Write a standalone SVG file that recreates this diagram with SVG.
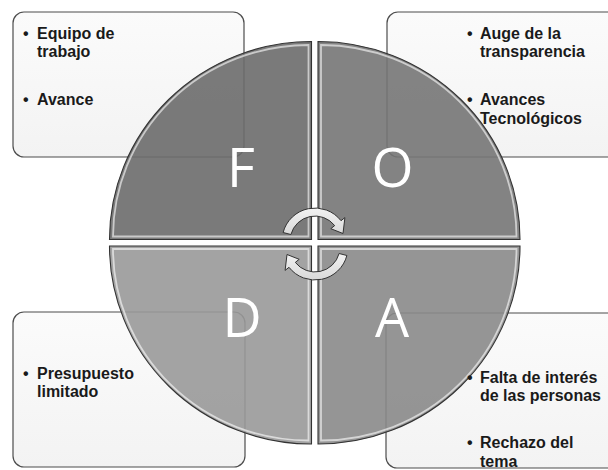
<svg xmlns="http://www.w3.org/2000/svg" width="608" height="470" viewBox="0 0 608 470">
<defs>
<linearGradient id="boxg" x1="0" y1="0" x2="0" y2="1">
<stop offset="0" stop-color="#fbfbfb"/>
<stop offset="1" stop-color="#f3f3f3"/>
</linearGradient>
<linearGradient id="arrg" x1="0" y1="0" x2="0" y2="1">
<stop offset="0" stop-color="#f2f2f2"/>
<stop offset="1" stop-color="#d9d9d9"/>
</linearGradient>
</defs>
<style>
.box{fill:url(#boxg);stroke:#4d4d4d;stroke-width:1.2}
.sec{stroke:#333;stroke-width:1.1;fill-opacity:0.9}
.hl{fill:none;stroke:#ffffff;stroke-opacity:0.6;stroke-width:1.8}
.ltr{font-family:"Open Sans","Liberation Sans",sans-serif;font-size:54px;fill:#ffffff;text-anchor:middle}
.txt{font-family:"Liberation Sans",Arial,sans-serif;font-size:16px;font-weight:bold;fill:#1a1a1a}
.arr{fill:url(#arrg);stroke:#333;stroke-width:1}
</style>

<g id="box-F"><rect class="box" x="13" y="12" width="231" height="145" rx="11"/></g>
<g id="box-O"><rect class="box" x="387" y="12" width="240" height="145" rx="11"/></g>
<g id="box-D"><rect class="box" x="13" y="312" width="232" height="155" rx="11"/></g>
<g id="box-A"><rect class="box" x="386" y="313" width="240" height="155" rx="11"/></g>

<g id="sector-F">
<path class="sec" fill="#6c6c6c" d="M311.5 239.5 L109.5 239.5 A202 198 0 0 1 311.5 41.5 Z"/>
<path class="hl" d="M308.5 236.5 L113 236.5 A195.5 192 0 0 1 308.5 45 Z"/>
</g>
<g id="sector-O">
<path class="sec" fill="#757575" d="M318 239.5 L318 41.5 A202 198 0 0 1 520 239.5 Z"/>
<path class="hl" d="M321 236.5 L321 45 A195.5 192 0 0 1 516.5 236.5 Z"/>
</g>
<g id="sector-D">
<path class="sec" fill="#999999" d="M311.5 246 L109.5 246 A202 198 0 0 0 311.5 444 Z"/>
<path class="hl" d="M308.5 249 L113 249 A195.5 192 0 0 0 308.5 440.5 Z"/>
</g>
<g id="sector-A">
<path class="sec" fill="#898989" d="M318 246 L520 246 A202 198 0 0 1 318 444 Z"/>
<path class="hl" d="M321 249 L516.5 249 A195.5 192 0 0 1 321 440.5 Z"/>
</g>

<g id="connectors">
<path class="arr" d="M283.1 232.5 A33 33 0 0 1 341.0 220.7 L344.9 217.6 L343.0 233.5 L330.8 228.7 L334.7 225.6 A25 25 0 0 0 290.9 234.5 Z"/>
<path class="arr" d="M346.9 255.5 A33 33 0 0 1 289.0 267.3 L285.1 270.4 L287.0 254.5 L299.2 259.3 L295.3 262.4 A25 25 0 0 0 339.1 253.5 Z"/>
</g>

<g id="label-F"><text class="ltr" x="241" y="187">F</text></g>
<g id="label-O"><text class="ltr" x="392.5" y="186.5">O</text></g>
<g id="label-D"><text class="ltr" x="242" y="337">D</text></g>
<g id="label-A"><text class="ltr" x="392" y="337">A</text></g>

<g id="text-F">
<text class="txt" x="37" y="38.5"><tspan x="23">•</tspan><tspan x="37">Equipo de</tspan></text>
<text class="txt" x="37" y="57">trabajo</text>
<text class="txt" x="37" y="105"><tspan x="23">•</tspan><tspan x="37">Avance</tspan></text>
</g>
<g id="text-O">
<text class="txt" x="480" y="38.5"><tspan x="467">•</tspan><tspan x="480">Auge de la</tspan></text>
<text class="txt" x="480" y="57">transparencia</text>
<text class="txt" x="480" y="105"><tspan x="467">•</tspan><tspan x="480">Avances</tspan></text>
<text class="txt" x="480" y="123.5">Tecnológicos</text>
</g>
<g id="text-D">
<text class="txt" x="37" y="378.5"><tspan x="23">•</tspan><tspan x="37">Presupuesto</tspan></text>
<text class="txt" x="37" y="397">limitado</text>
</g>
<g id="text-A">
<text class="txt" x="480" y="382.5"><tspan x="467">•</tspan><tspan x="480">Falta de interés</tspan></text>
<text class="txt" x="480" y="401">de las personas</text>
<text class="txt" x="480" y="448"><tspan x="467">•</tspan><tspan x="480">Rechazo del</tspan></text>
<text class="txt" x="480" y="466.5">tema</text>
</g>
</svg>
